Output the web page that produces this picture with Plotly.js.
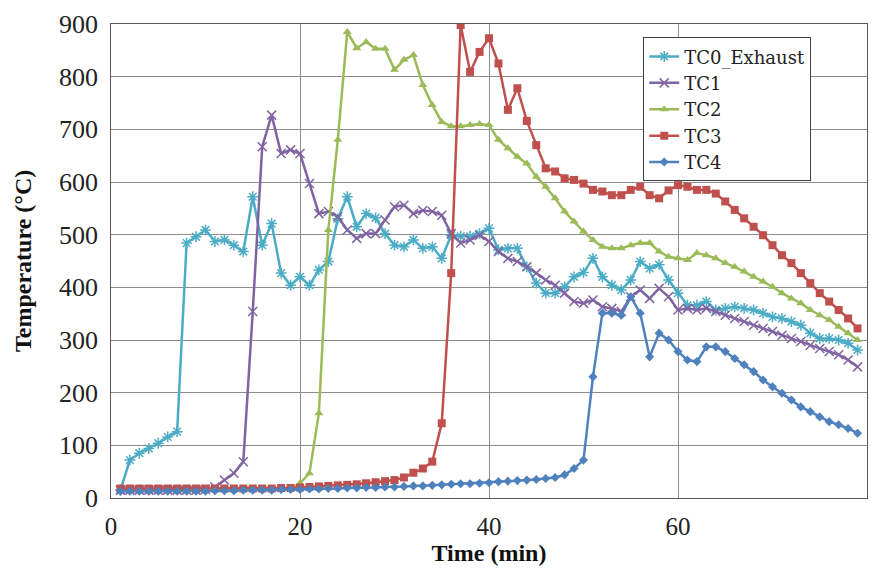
<!DOCTYPE html>
<html>
<head>
<meta charset="utf-8">
<script src="https://cdn.plot.ly/plotly-3.0.1.min.js"></script>
<style>
html,body{margin:0;padding:0;background:#fff;}
#chart{width:878px;height:568px;}
#chart text, #chart tspan { font-family: 'Liberation Serif', serif !important; }
#chart g.legend text.legendtext, #chart g.legend text.legendtext tspan { font-family: 'DejaVu Serif', serif !important; }
</style>
</head>
<body>
<div id="chart"></div>
<script>
const time = [1,2,3,4,5,6,7,8,9,10,11,12,13,14,15,16,17,18,19,20,21,22,23,24,25,26,27,28,29,30,31,32,33,34,35,36,37,38,39,40,41,42,43,44,45,46,47,48,49,50,51,52,53,54,55,56,57,58,59,60,61,62,63,64,65,66,67,68,69,70,71,72,73,74,75,76,77,78,79];

const tc0 = [15,72,85,94,104,116,126,484,496,509,487,490,480,468,572,480,521,427,404,420,404,433,449,530,572,515,540,532,502,480,477,490,474,477,455,499,497,497,502,512,471,474,474,439,408,389,389,401,420,428,455,420,404,395,414,449,436,443,414,389,366,366,373,357,360,363,360,357,351,344,341,335,328,313,303,303,300,294,281];

const tc1 = [15,15,15,15,15,15,15,15,15,16,21,34,47,69,354,667,727,654,661,654,597,540,544,534,509,493,502,502,528,553,556,540,546,544,537,502,484,490,499,487,468,455,449,439,427,414,404,389,373,370,376,363,360,354,382,395,379,398,382,357,360,357,360,354,347,341,335,328,322,316,309,303,297,290,284,278,272,262,249];

const tc2 = [15,15,15,15,15,15,15,15,15,15,15,15,15,15,15,15,16,16,17,28,47,161,509,680,885,854,866,853,853,813,832,841,784,746,714,706,706,708,710,708,680,664,648,635,610,591,569,544,525,506,490,477,474,474,480,484,484,468,458,455,452,465,461,455,446,439,430,420,411,401,389,379,370,357,347,338,325,313,300];

const tc3 = [18,18,18,18,18,18,18,18,18,18,18,18,18,18,18,18,18,19,19,20,21,22,23,24,25,26,28,30,32,34,39,48,56,69,142,427,898,809,847,873,825,737,778,716,670,626,620,607,604,597,585,582,575,575,585,591,575,569,584,594,591,585,585,578,563,547,531,515,499,480,461,446,427,408,389,373,357,341,322];

const tc4 = [13,13,13,13,13,13,13,13,13,13,14,14,14,15,15,15,15,16,16,16,17,17,18,18,19,19,20,20,21,21,22,23,23,24,25,26,27,27,28,29,31,32,33,34,35,37,39,44,56,72,230,351,351,347,382,351,268,313,300,278,262,259,287,287,278,265,253,240,224,211,199,186,173,164,154,145,139,132,123];

const names = ['TC0_Exhaust','TC1','TC2','TC3','TC4'];
const series = [tc0, tc1, tc2, tc3, tc4];
const colors = ['#4BACC6','#8064A2','#9BBB59','#C0504D','#4F81BD'];
const symbols = ['asterisk-open','x-thin-open','triangle-up','square','diamond'];
const sizes = [9, 9, 8, 8, 7];

const traces = series.map((ys, i) => ({
  x: time,
  y: ys,
  name: names[i],
  type: 'scatter',
  mode: 'lines+markers',
  line: {color: colors[i], width: 2.5},
  marker: {
    symbol: symbols[i],
    size: sizes[i],
    color: colors[i],
    line: {color: colors[i], width: (i < 2 ? 1.5 : 0)}
  }
}));

const serif = 'Liberation Serif';

const layout = {
  width: 878,
  height: 568,
  margin: {l: 111, r: 11, t: 24, b: 70},
  paper_bgcolor: '#ffffff',
  plot_bgcolor: '#ffffff',
  font: {family: serif, size: 20, color: '#222222'},
  showlegend: true,
  legend: {
    x: 0.704, y: 0.972, xanchor: 'left', yanchor: 'top',
    bgcolor: '#ffffff',
    bordercolor: '#404040', borderwidth: 1,
    font: {family: 'DejaVu Serif', size: 18, color: '#222222'},
    itemwidth: 30,
    tracegroupgap: 0
  },
  xaxis: {
    range: [0, 80],
    dtick: 20,
    tick0: 0,
    showgrid: true,
    gridcolor: '#8c8c8c',
    gridwidth: 1,
    zeroline: false,
    showline: true,
    linecolor: '#595959',
    linewidth: 1.2,
    mirror: true,
    ticks: '',
    ticklabelstandoff: 6,
    tickfont: {family: serif, size: 25, color: '#222222'},
    title: {text: '<b>Time (min)</b>', font: {family: serif, size: 24, color: '#111111'}, standoff: 3}
  },
  yaxis: {
    range: [0, 900],
    dtick: 100,
    tick0: 0,
    showgrid: true,
    gridcolor: '#8c8c8c',
    gridwidth: 1,
    zeroline: false,
    showline: true,
    linecolor: '#595959',
    linewidth: 1.2,
    mirror: true,
    ticks: '',
    ticksuffix: '\u00a0',
    tickfont: {family: serif, size: 26, color: '#222222'},
    title: {text: ''}
  },
  annotations: [{
    xref: 'paper', yref: 'paper',
    x: -0.1164, y: 0.5,
    xanchor: 'center', yanchor: 'middle',
    textangle: -90,
    showarrow: false,
    text: '<b>Temperature (°C)</b>',
    font: {family: serif, size: 24, color: '#111111'}
  }]
};

Plotly.newPlot('chart', traces, layout, {displayModeBar: false, staticPlot: true});
</script>
</body>
</html>
